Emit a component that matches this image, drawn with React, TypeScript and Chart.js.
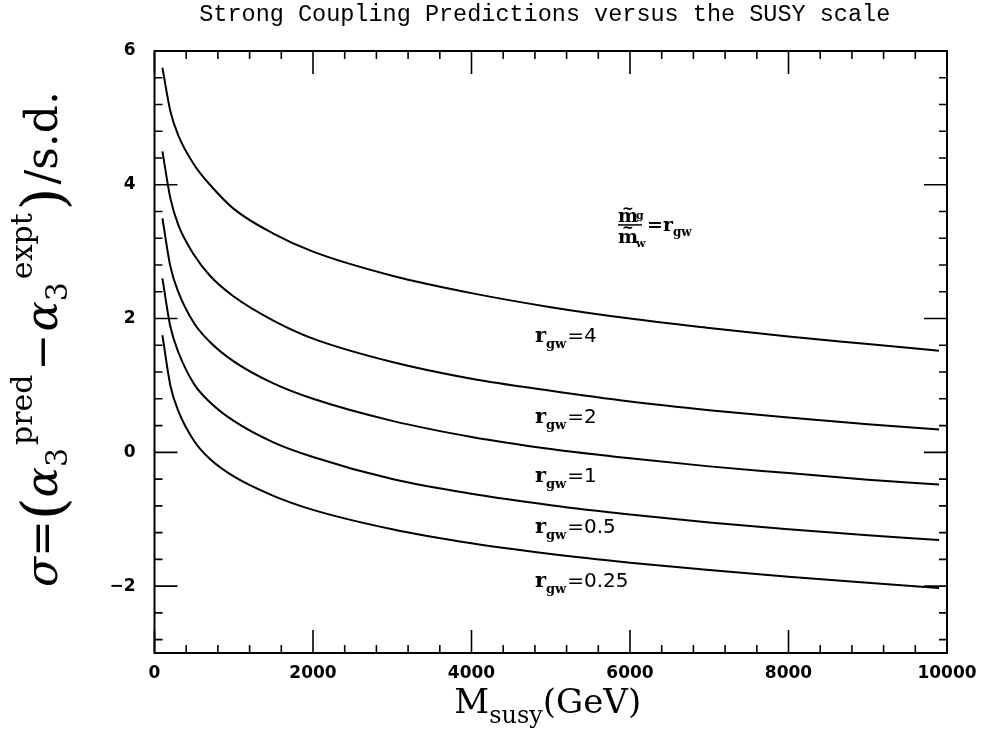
import React, { useEffect, useRef } from "react";
import { Chart, registerables } from "chart.js";

Chart.register(...registerables);

// ---- data ----
const massGeV = [100, 200, 300, 500, 700, 1000, 1500, 2000, 3000, 4000, 5000, 6000, 7000, 8000, 9000, 9900];
const sigmaR4 = [5.75, 5.1, 4.74, 4.3, 4.0, 3.64, 3.27, 3.0, 2.64, 2.38, 2.17, 2.0, 1.86, 1.73, 1.62, 1.52];
const sigmaR2 = [4.5, 3.8, 3.4, 2.95, 2.64, 2.33, 1.97, 1.7, 1.35, 1.1, 0.92, 0.76, 0.63, 0.52, 0.42, 0.34];
const sigmaR1 = [3.5, 2.78, 2.4, 1.93, 1.65, 1.36, 1.03, 0.8, 0.47, 0.23, 0.05, -0.09, -0.21, -0.31, -0.41, -0.48];
const sigmaR05 = [2.6, 1.88, 1.5, 1.02, 0.75, 0.47, 0.15, -0.07, -0.4, -0.62, -0.79, -0.93, -1.05, -1.15, -1.24, -1.31];
const sigmaR025 = [1.75, 1.0, 0.62, 0.17, -0.1, -0.36, -0.65, -0.86, -1.15, -1.36, -1.52, -1.65, -1.76, -1.86, -1.95, -2.03];

const ratioNames = ["4", "2", "1", "0.5", "0.25"];
const labelMass = 4800;
const labelSigma = [1.76, 0.54, -0.34, -1.1, -1.91];

const noteMass = 6000;
const noteSigma = 3.4;

const xTickValues = [0, 2000, 4000, 6000, 8000, 10000];
const yTickValues = [-2, 0, 2, 4, 6];
const xMin = 0, xMax = 10000, yMin = -3, yMax = 6;
const xMinorStep = 400;
const yMinorStep = 0.4;

const titleText = "Strong Coupling Predictions versus the SUSY scale";

type Seg = { t: string; f: string; dy?: number; dx?: number };

function richWidth(ctx: CanvasRenderingContext2D, segs: Seg[]) {
  let w = 0;
  for (const s of segs) {
    ctx.font = s.f;
    w += ctx.measureText(s.t).width + (s.dx || 0);
  }
  return w;
}

function drawRich(ctx: CanvasRenderingContext2D, segs: Seg[], x: number, y: number, align: "left" | "center") {
  const w = richWidth(ctx, segs);
  let cx = align === "center" ? x - w / 2 : x;
  ctx.textAlign = "left";
  ctx.textBaseline = "alphabetic";
  for (const s of segs) {
    ctx.font = s.f;
    ctx.fillText(s.t, cx, y + (s.dy || 0));
    cx += ctx.measureText(s.t).width + (s.dx || 0);
  }
}

const SERIF = "'DejaVu Serif'";

const framePlugin = {
  id: "framePlugin",
  afterDraw(chart: any) {
    const ctx: CanvasRenderingContext2D = chart.ctx;
    const { left, right, top, bottom } = chart.chartArea;
    const xs = chart.scales.x;
    const ys = chart.scales.y;
    ctx.save();
    ctx.strokeStyle = "#000";
    ctx.fillStyle = "#000";

    // frame
    ctx.lineWidth = 2;
    ctx.strokeRect(left, top, right - left, bottom - top);

    // ticks (inside, all four sides)
    ctx.lineWidth = 1.6;
    const major = 23, minor = 8;
    for (let k = 0; xMin + k * xMinorStep <= xMax + 1e-6; k++) {
      const v = xMin + k * xMinorStep;
      const isMajor = xTickValues.indexOf(v) >= 0;
      const L = isMajor ? major : minor;
      const px = xs.getPixelForValue(v);
      ctx.beginPath();
      ctx.moveTo(px, bottom);
      ctx.lineTo(px, bottom - L);
      ctx.moveTo(px, top);
      ctx.lineTo(px, top + L);
      ctx.stroke();
    }
    for (let k = 0; yMax - k * yMinorStep >= yMin - 1e-6; k++) {
      const v = Math.round((yMax - k * yMinorStep) * 100) / 100;
      const isMajor = yTickValues.indexOf(v) >= 0;
      const L = isMajor ? major : minor;
      const py = ys.getPixelForValue(v);
      ctx.beginPath();
      ctx.moveTo(left, py);
      ctx.lineTo(left + L, py);
      ctx.moveTo(right, py);
      ctx.lineTo(right - L, py);
      ctx.stroke();
    }

    // title
    ctx.font = "23.5px 'Liberation Mono'";
    ctx.textAlign = "center";
    ctx.textBaseline = "middle";
    ctx.fillText(titleText, (left + right) / 2 - 6, 15);

    // x axis title
    drawRich(
      ctx,
      [
        { t: "M", f: `34px ${SERIF}` },
        { t: "susy", f: `24px ${SERIF}`, dy: 10 },
        { t: "(GeV)", f: `34px ${SERIF}` },
      ],
      (left + right) / 2 - 3,
      713,
      "center"
    );

    // y axis title (rotated)
    ctx.save();
    ctx.translate(57, (top + bottom) / 2 - 13);
    ctx.rotate(-Math.PI / 2);
    drawRich(
      ctx,
      [
        { t: "σ", f: `italic 44px ${SERIF}` },
        { t: "=", f: `44px ${SERIF}` },
        { t: "(", f: `58px ${SERIF}`, dy: 6 },
        { t: "α", f: `italic 45px ${SERIF}` },
        { t: "3", f: `30px ${SERIF}`, dy: 10, dx: 3 },
        { t: "pred", f: `30px ${SERIF}`, dy: -25, dx: 4 },
        { t: "−", f: `44px ${SERIF}`, dx: 2 },
        { t: "α", f: `italic 45px ${SERIF}` },
        { t: "3", f: `30px ${SERIF}`, dy: 10, dx: 3 },
        { t: "expt", f: `30px ${SERIF}`, dy: -25, dx: 3 },
        { t: ")", f: `58px ${SERIF}`, dy: 6, dx: 3 },
        { t: "/s.d.", f: `44px ${SERIF}` },
      ],
      0,
      0,
      "center"
    );
    ctx.restore();

    // curve labels
    for (let i = 0; i < ratioNames.length; i++) {
      const px = xs.getPixelForValue(labelMass);
      const py = ys.getPixelForValue(labelSigma[i]);
      drawRich(
        ctx,
        [
          { t: "r", f: `bold 21px ${SERIF}` },
          { t: "gw", f: `bold 13px ${SERIF}`, dy: 6, dx: 1 },
          { t: "=" + ratioNames[i], f: "20px 'DejaVu Sans'" },
        ],
        px,
        py + 7,
        "left"
      );
    }

    // ratio definition note
    const cx = xs.getPixelForValue(noteMass);
    const by = ys.getPixelForValue(noteSigma);
    ctx.lineWidth = 1.5;
    ctx.beginPath();
    ctx.moveTo(cx - 12, by);
    ctx.lineTo(cx + 12, by);
    ctx.stroke();
    const mFont = `bold 19px ${SERIF}`;
    const sFont = `bold 11px ${SERIF}`;
    const tFont = `bold 14px ${SERIF}`;
    ctx.textAlign = "left";
    ctx.textBaseline = "alphabetic";
    // numerator
    ctx.font = mFont;
    ctx.fillText("m", cx - 12, by - 3);
    ctx.font = tFont;
    ctx.fillText("~", cx - 8, by - 12);
    ctx.font = sFont;
    ctx.fillText("g", cx + 6, by - 6);
    // denominator
    ctx.font = mFont;
    ctx.fillText("m", cx - 12, by + 18);
    ctx.font = tFont;
    ctx.fillText("~", cx - 8, by + 7);
    ctx.font = sFont;
    ctx.fillText("w", cx + 6, by + 22);
    // = r_gw
    drawRich(
      ctx,
      [
        { t: "=r", f: `bold 19px ${SERIF}` },
        { t: "gw", f: `bold 12px ${SERIF}`, dy: 5 },
      ],
      cx + 17,
      by + 6,
      "left"
    );

    ctx.restore();
  },
};

function makeSeries(values: number[]) {
  return massGeV.map((m, i) => ({ x: m, y: values[i] }));
}

export default function App() {
  const ref = useRef<HTMLCanvasElement | null>(null);

  useEffect(() => {
    if (!ref.current) return;
    const seriesList = [sigmaR4, sigmaR2, sigmaR1, sigmaR05, sigmaR025];
    const chart = new Chart(ref.current, {
      type: "line",
      data: {
        datasets: seriesList.map((vals, i) => ({
          label: "r_gw=" + ratioNames[i],
          data: makeSeries(vals),
          borderColor: "#000",
          borderWidth: 2,
          pointRadius: 0,
          fill: false,
          cubicInterpolationMode: "monotone" as const,
        })),
      },
      options: {
        animation: false,
        responsive: false,
        maintainAspectRatio: false,
        devicePixelRatio: 1,
        layout: { padding: { left: 0, top: 51, right: 37, bottom: 0 } },
        plugins: {
          legend: { display: false },
          tooltip: { enabled: false },
          title: { display: false },
        },
        scales: {
          x: {
            type: "linear",
            min: xMin,
            max: xMax,
            afterFit: (s: any) => {
              s.height = 90;
              s.paddingLeft = 0;
              s.paddingRight = 0;
            },
            afterBuildTicks: (s: any) => {
              s.ticks = xTickValues.map((v) => ({ value: v }));
            },
            grid: { display: false, drawTicks: false },
            border: { display: false },
            ticks: {
              padding: 10,
              color: "#000",
              maxRotation: 0,
              autoSkip: false,
              font: { family: "'DejaVu Sans'", size: 17, weight: "bold" },
              callback: (v: any) => String(v),
            },
          },
          y: {
            type: "linear",
            min: yMin,
            max: yMax,
            afterFit: (s: any) => {
              s.width = 154.5;
              s.paddingTop = 0;
              s.paddingBottom = 0;
            },
            afterBuildTicks: (s: any) => {
              s.ticks = yTickValues.map((v) => ({ value: v }));
            },
            grid: { display: false, drawTicks: false },
            border: { display: false },
            ticks: {
              padding: 19,
              color: "#000",
              autoSkip: false,
              font: { family: "'DejaVu Sans'", size: 17, weight: "bold" },
              callback: (v: any) => (Number(v) < 0 ? "−" + Math.abs(Number(v)) : String(v)),
            },
          },
        },
      },
      plugins: [framePlugin],
    });
    return () => chart.destroy();
  }, []);

  return (
    <div style={{ position: "absolute", left: 0, top: 0, width: 984, height: 743, background: "#fff" }}>
      <canvas ref={ref} width={984} height={743} style={{ width: 984, height: 743 }} />
    </div>
  );
}
